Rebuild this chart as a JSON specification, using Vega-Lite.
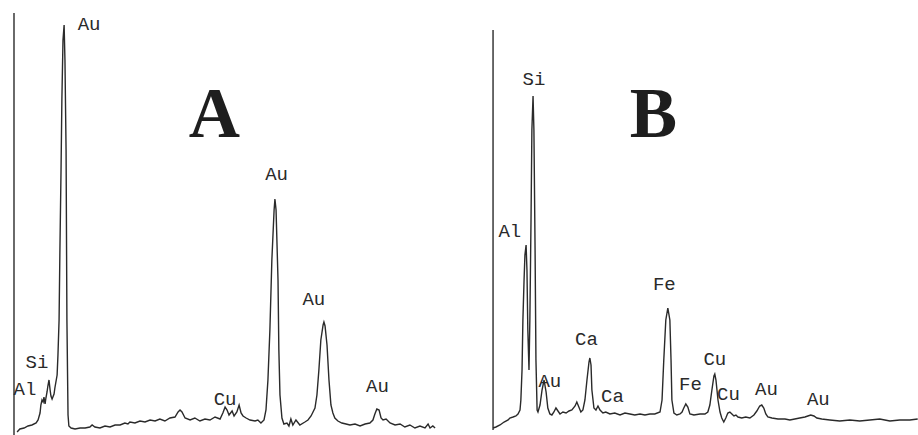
{
  "$schema": "https://vega.github.io/schema/vega-lite/v6.json",
  "padding": 0,
  "background": "white",
  "spacing": 0,
  "config": {"view": {"stroke": null}, "concat": {"spacing": 0}},
  "datasets": {
    "spectrumA": [
      {"E":0.41,"I":3},{"E":0.51,"I":6},{"E":0.66,"I":7},{"E":0.80,"I":9},{"E":0.94,"I":10},{"E":1.09,"I":12},{"E":1.16,"I":15},{"E":1.23,"I":22},{"E":1.26,"I":30},{"E":1.30,"I":35},{"E":1.34,"I":33},{"E":1.37,"I":38},{"E":1.41,"I":31},{"E":1.44,"I":37},{"E":1.48,"I":43},{"E":1.51,"I":49},{"E":1.55,"I":55},{"E":1.59,"I":45},{"E":1.62,"I":39},{"E":1.66,"I":36},{"E":1.73,"I":41},{"E":1.76,"I":47},{"E":1.84,"I":60},{"E":1.87,"I":80},{"E":1.91,"I":115},{"E":1.94,"I":185},{"E":1.98,"I":265},{"E":2.01,"I":335},{"E":2.05,"I":395},{"E":2.09,"I":410},{"E":2.12,"I":375},{"E":2.16,"I":285},{"E":2.19,"I":115},{"E":2.23,"I":20},{"E":2.26,"I":9},{"E":2.34,"I":7},{"E":2.48,"I":6},{"E":2.66,"I":7},{"E":2.84,"I":7},{"E":3.01,"I":8},{"E":3.09,"I":10},{"E":3.19,"I":8},{"E":3.37,"I":7},{"E":3.55,"I":9},{"E":3.73,"I":8},{"E":3.91,"I":10},{"E":4.09,"I":10},{"E":4.26,"I":12},{"E":4.37,"I":11},{"E":4.44,"I":13},{"E":4.62,"I":12},{"E":4.80,"I":14},{"E":4.98,"I":13},{"E":5.16,"I":15},{"E":5.34,"I":14},{"E":5.51,"I":16},{"E":5.69,"I":14},{"E":5.87,"I":17},{"E":6.05,"I":18},{"E":6.16,"I":23},{"E":6.23,"I":25},{"E":6.30,"I":23},{"E":6.41,"I":17},{"E":6.59,"I":15},{"E":6.76,"I":17},{"E":6.94,"I":14},{"E":7.12,"I":16},{"E":7.30,"I":15},{"E":7.48,"I":18},{"E":7.66,"I":16},{"E":7.76,"I":22},{"E":7.84,"I":28},{"E":7.91,"I":25},{"E":7.98,"I":20},{"E":8.09,"I":24},{"E":8.16,"I":19},{"E":8.26,"I":23},{"E":8.34,"I":30},{"E":8.41,"I":22},{"E":8.48,"I":19},{"E":8.59,"I":17},{"E":8.73,"I":15},{"E":8.91,"I":14},{"E":9.01,"I":15},{"E":9.12,"I":12},{"E":9.23,"I":15},{"E":9.30,"I":25},{"E":9.37,"I":55},{"E":9.44,"I":105},{"E":9.51,"I":175},{"E":9.59,"I":225},{"E":9.62,"I":236},{"E":9.66,"I":225},{"E":9.73,"I":155},{"E":9.76,"I":85},{"E":9.80,"I":40},{"E":9.87,"I":17},{"E":9.94,"I":11},{"E":10.05,"I":12},{"E":10.12,"I":9},{"E":10.19,"I":16},{"E":10.26,"I":10},{"E":10.37,"I":15},{"E":10.51,"I":10},{"E":10.69,"I":13},{"E":10.80,"I":15},{"E":10.91,"I":19},{"E":10.98,"I":23},{"E":11.05,"I":27},{"E":11.12,"I":40},{"E":11.19,"I":65},{"E":11.26,"I":95},{"E":11.34,"I":110},{"E":11.37,"I":113},{"E":11.41,"I":109},{"E":11.48,"I":90},{"E":11.55,"I":55},{"E":11.62,"I":30},{"E":11.69,"I":22},{"E":11.76,"I":17},{"E":11.87,"I":14},{"E":12.01,"I":12},{"E":12.16,"I":11},{"E":12.30,"I":10},{"E":12.48,"I":11},{"E":12.66,"I":9},{"E":12.84,"I":11},{"E":13.01,"I":12},{"E":13.12,"I":15},{"E":13.19,"I":21},{"E":13.26,"I":26},{"E":13.34,"I":25},{"E":13.41,"I":17},{"E":13.48,"I":15},{"E":13.59,"I":16},{"E":13.73,"I":12},{"E":13.91,"I":10},{"E":14.09,"I":11},{"E":14.26,"I":8},{"E":14.44,"I":10},{"E":14.62,"I":7},{"E":14.80,"I":9},{"E":14.98,"I":7},{"E":15.09,"I":11},{"E":15.16,"I":7},{"E":15.26,"I":9},{"E":15.34,"I":7}
    ],
    "spectrumB": [
      {"E":0.34,"I":7},{"E":0.44,"I":8},{"E":0.58,"I":10},{"E":0.72,"I":13},{"E":0.86,"I":15},{"E":0.92,"I":17},{"E":1.03,"I":18},{"E":1.13,"I":19},{"E":1.20,"I":21},{"E":1.27,"I":25},{"E":1.30,"I":35},{"E":1.34,"I":65},{"E":1.37,"I":115},{"E":1.41,"I":155},{"E":1.44,"I":180},{"E":1.48,"I":190},{"E":1.51,"I":165},{"E":1.54,"I":105},{"E":1.58,"I":65},{"E":1.61,"I":115},{"E":1.65,"I":215},{"E":1.68,"I":305},{"E":1.72,"I":339},{"E":1.75,"I":305},{"E":1.79,"I":185},{"E":1.82,"I":75},{"E":1.86,"I":25},{"E":1.89,"I":23},{"E":1.96,"I":30},{"E":2.03,"I":45},{"E":2.10,"I":55},{"E":2.17,"I":43},{"E":2.23,"I":27},{"E":2.30,"I":21},{"E":2.37,"I":20},{"E":2.44,"I":23},{"E":2.51,"I":27},{"E":2.58,"I":24},{"E":2.65,"I":21},{"E":2.75,"I":23},{"E":2.86,"I":22},{"E":2.96,"I":24},{"E":3.06,"I":25},{"E":3.17,"I":29},{"E":3.23,"I":33},{"E":3.30,"I":28},{"E":3.37,"I":23},{"E":3.44,"I":25},{"E":3.51,"I":35},{"E":3.58,"I":55},{"E":3.65,"I":73},{"E":3.68,"I":77},{"E":3.72,"I":70},{"E":3.75,"I":45},{"E":3.82,"I":27},{"E":3.89,"I":25},{"E":3.96,"I":29},{"E":4.03,"I":25},{"E":4.13,"I":22},{"E":4.23,"I":23},{"E":4.37,"I":21},{"E":4.54,"I":22},{"E":4.72,"I":20},{"E":4.89,"I":22},{"E":5.06,"I":21},{"E":5.23,"I":20},{"E":5.41,"I":21},{"E":5.58,"I":20},{"E":5.75,"I":21},{"E":5.92,"I":21},{"E":6.10,"I":23},{"E":6.17,"I":35},{"E":6.23,"I":75},{"E":6.30,"I":115},{"E":6.37,"I":127},{"E":6.44,"I":115},{"E":6.48,"I":75},{"E":6.51,"I":35},{"E":6.58,"I":22},{"E":6.68,"I":20},{"E":6.79,"I":21},{"E":6.86,"I":23},{"E":6.92,"I":27},{"E":6.99,"I":31},{"E":7.06,"I":28},{"E":7.13,"I":21},{"E":7.27,"I":20},{"E":7.48,"I":21},{"E":7.65,"I":21},{"E":7.75,"I":23},{"E":7.82,"I":30},{"E":7.89,"I":45},{"E":7.96,"I":59},{"E":7.99,"I":61},{"E":8.03,"I":55},{"E":8.10,"I":35},{"E":8.17,"I":23},{"E":8.23,"I":17},{"E":8.30,"I":13},{"E":8.37,"I":17},{"E":8.44,"I":22},{"E":8.51,"I":23},{"E":8.58,"I":21},{"E":8.65,"I":19},{"E":8.72,"I":20},{"E":8.79,"I":18},{"E":8.92,"I":17},{"E":9.06,"I":18},{"E":9.20,"I":17},{"E":9.34,"I":20},{"E":9.44,"I":24},{"E":9.54,"I":29},{"E":9.61,"I":30},{"E":9.68,"I":27},{"E":9.75,"I":21},{"E":9.82,"I":18},{"E":9.96,"I":17},{"E":10.17,"I":16},{"E":10.41,"I":16},{"E":10.58,"I":15},{"E":10.75,"I":16},{"E":10.92,"I":17},{"E":11.10,"I":18},{"E":11.20,"I":19},{"E":11.30,"I":20},{"E":11.41,"I":19},{"E":11.51,"I":17},{"E":11.68,"I":16},{"E":11.96,"I":15},{"E":12.30,"I":14},{"E":12.65,"I":15},{"E":12.99,"I":14},{"E":13.34,"I":15},{"E":13.68,"I":16},{"E":14.03,"I":14},{"E":14.37,"I":15},{"E":14.72,"I":15},{"E":14.99,"I":16}
    ],
    "axes": [
      {"panel":"A","E":0.30,"I0":0,"I1":422},
      {"panel":"B","E":0.34,"I0":5,"I1":405}
    ],
    "labels": [
      {"panel":"A","E":2.98,"I":405,"text":"Au"},
      {"panel":"A","E":9.68,"I":255,"text":"Au"},
      {"panel":"A","E":11.01,"I":130,"text":"Au"},
      {"panel":"A","E":13.28,"I":43,"text":"Au"},
      {"panel":"A","E":1.12,"I":67,"text":"Si"},
      {"panel":"A","E":0.69,"I":40,"text":"Al"},
      {"panel":"A","E":7.84,"I":30,"text":"Cu"},
      {"panel":"B","E":1.75,"I":350,"text":"Si"},
      {"panel":"B","E":0.92,"I":198,"text":"Al"},
      {"panel":"B","E":2.30,"I":48,"text":"Au"},
      {"panel":"B","E":3.56,"I":90,"text":"Ca"},
      {"panel":"B","E":4.46,"I":33,"text":"Ca"},
      {"panel":"B","E":6.25,"I":145,"text":"Fe"},
      {"panel":"B","E":7.15,"I":45,"text":"Fe"},
      {"panel":"B","E":7.99,"I":70,"text":"Cu"},
      {"panel":"B","E":8.46,"I":35,"text":"Cu"},
      {"panel":"B","E":9.77,"I":40,"text":"Au"},
      {"panel":"B","E":11.56,"I":30,"text":"Au"}
    ],
    "titles": [
      {"panel":"A","E":7.46,"I":298,"text":"A"},
      {"panel":"B","E":5.87,"I":298,"text":"B"}
    ]
  },
  "hconcat": [
    {
      "width": 460,
      "height": 435,
      "layer": [
        {
          "data": {"name": "axes"},
          "transform": [{"filter": "datum.panel === 'A'"}],
          "mark": {"type": "rule", "color": "#2a2a2a", "strokeWidth": 1.4},
          "encoding": {
            "x": {"field": "E", "type": "quantitative", "scale": {"domain": [-0.2, 16.23], "nice": false, "zero": false}, "axis": null},
            "y": {"field": "I0", "type": "quantitative", "scale": {"domain": [0, 435], "nice": false, "zero": false}, "axis": null},
            "y2": {"field": "I1"}
          }
        },
        {
          "data": {"name": "spectrumA"},
          "mark": {"type": "line", "color": "#2a2a2a", "strokeWidth": 1.4, "interpolate": "linear"},
          "encoding": {
            "x": {"field": "E", "type": "quantitative", "scale": {"domain": [-0.2, 16.23], "nice": false, "zero": false}, "axis": null},
            "y": {"field": "I", "type": "quantitative", "scale": {"domain": [0, 435], "nice": false, "zero": false}, "axis": null}
          }
        },
        {
          "data": {"name": "labels"},
          "transform": [{"filter": "datum.panel === 'A'"}],
          "mark": {"type": "text", "font": "Liberation Mono", "fontSize": 19, "color": "#2a2a2a", "align": "center", "baseline": "alphabetic"},
          "encoding": {
            "x": {"field": "E", "type": "quantitative", "scale": {"domain": [-0.2, 16.23], "nice": false, "zero": false}, "axis": null},
            "y": {"field": "I", "type": "quantitative", "scale": {"domain": [0, 435], "nice": false, "zero": false}, "axis": null},
            "text": {"field": "text"}
          }
        },
        {
          "data": {"name": "titles"},
          "transform": [{"filter": "datum.panel === 'A'"}],
          "mark": {"type": "text", "font": "Liberation Serif", "fontWeight": "bold", "fontSize": 71, "color": "#1e1e1e", "align": "center", "baseline": "alphabetic"},
          "encoding": {
            "x": {"field": "E", "type": "quantitative", "scale": {"domain": [-0.2, 16.23], "nice": false, "zero": false}, "axis": null},
            "y": {"field": "I", "type": "quantitative", "scale": {"domain": [0, 435], "nice": false, "zero": false}, "axis": null},
            "text": {"field": "text"}
          }
        }
      ]
    },
    {
      "width": 458,
      "height": 435,
      "layer": [
        {
          "data": {"name": "axes"},
          "transform": [{"filter": "datum.panel === 'B'"}],
          "mark": {"type": "rule", "color": "#2a2a2a", "strokeWidth": 1.4},
          "encoding": {
            "x": {"field": "E", "type": "quantitative", "scale": {"domain": [-0.8, 15.0], "nice": false, "zero": false}, "axis": null},
            "y": {"field": "I0", "type": "quantitative", "scale": {"domain": [0, 435], "nice": false, "zero": false}, "axis": null},
            "y2": {"field": "I1"}
          }
        },
        {
          "data": {"name": "spectrumB"},
          "mark": {"type": "line", "color": "#2a2a2a", "strokeWidth": 1.4, "interpolate": "linear"},
          "encoding": {
            "x": {"field": "E", "type": "quantitative", "scale": {"domain": [-0.8, 15.0], "nice": false, "zero": false}, "axis": null},
            "y": {"field": "I", "type": "quantitative", "scale": {"domain": [0, 435], "nice": false, "zero": false}, "axis": null}
          }
        },
        {
          "data": {"name": "labels"},
          "transform": [{"filter": "datum.panel === 'B'"}],
          "mark": {"type": "text", "font": "Liberation Mono", "fontSize": 19, "color": "#2a2a2a", "align": "center", "baseline": "alphabetic"},
          "encoding": {
            "x": {"field": "E", "type": "quantitative", "scale": {"domain": [-0.8, 15.0], "nice": false, "zero": false}, "axis": null},
            "y": {"field": "I", "type": "quantitative", "scale": {"domain": [0, 435], "nice": false, "zero": false}, "axis": null},
            "text": {"field": "text"}
          }
        },
        {
          "data": {"name": "titles"},
          "transform": [{"filter": "datum.panel === 'B'"}],
          "mark": {"type": "text", "font": "Liberation Serif", "fontWeight": "bold", "fontSize": 71, "color": "#1e1e1e", "align": "center", "baseline": "alphabetic"},
          "encoding": {
            "x": {"field": "E", "type": "quantitative", "scale": {"domain": [-0.8, 15.0], "nice": false, "zero": false}, "axis": null},
            "y": {"field": "I", "type": "quantitative", "scale": {"domain": [0, 435], "nice": false, "zero": false}, "axis": null},
            "text": {"field": "text"}
          }
        }
      ]
    }
  ]
}
